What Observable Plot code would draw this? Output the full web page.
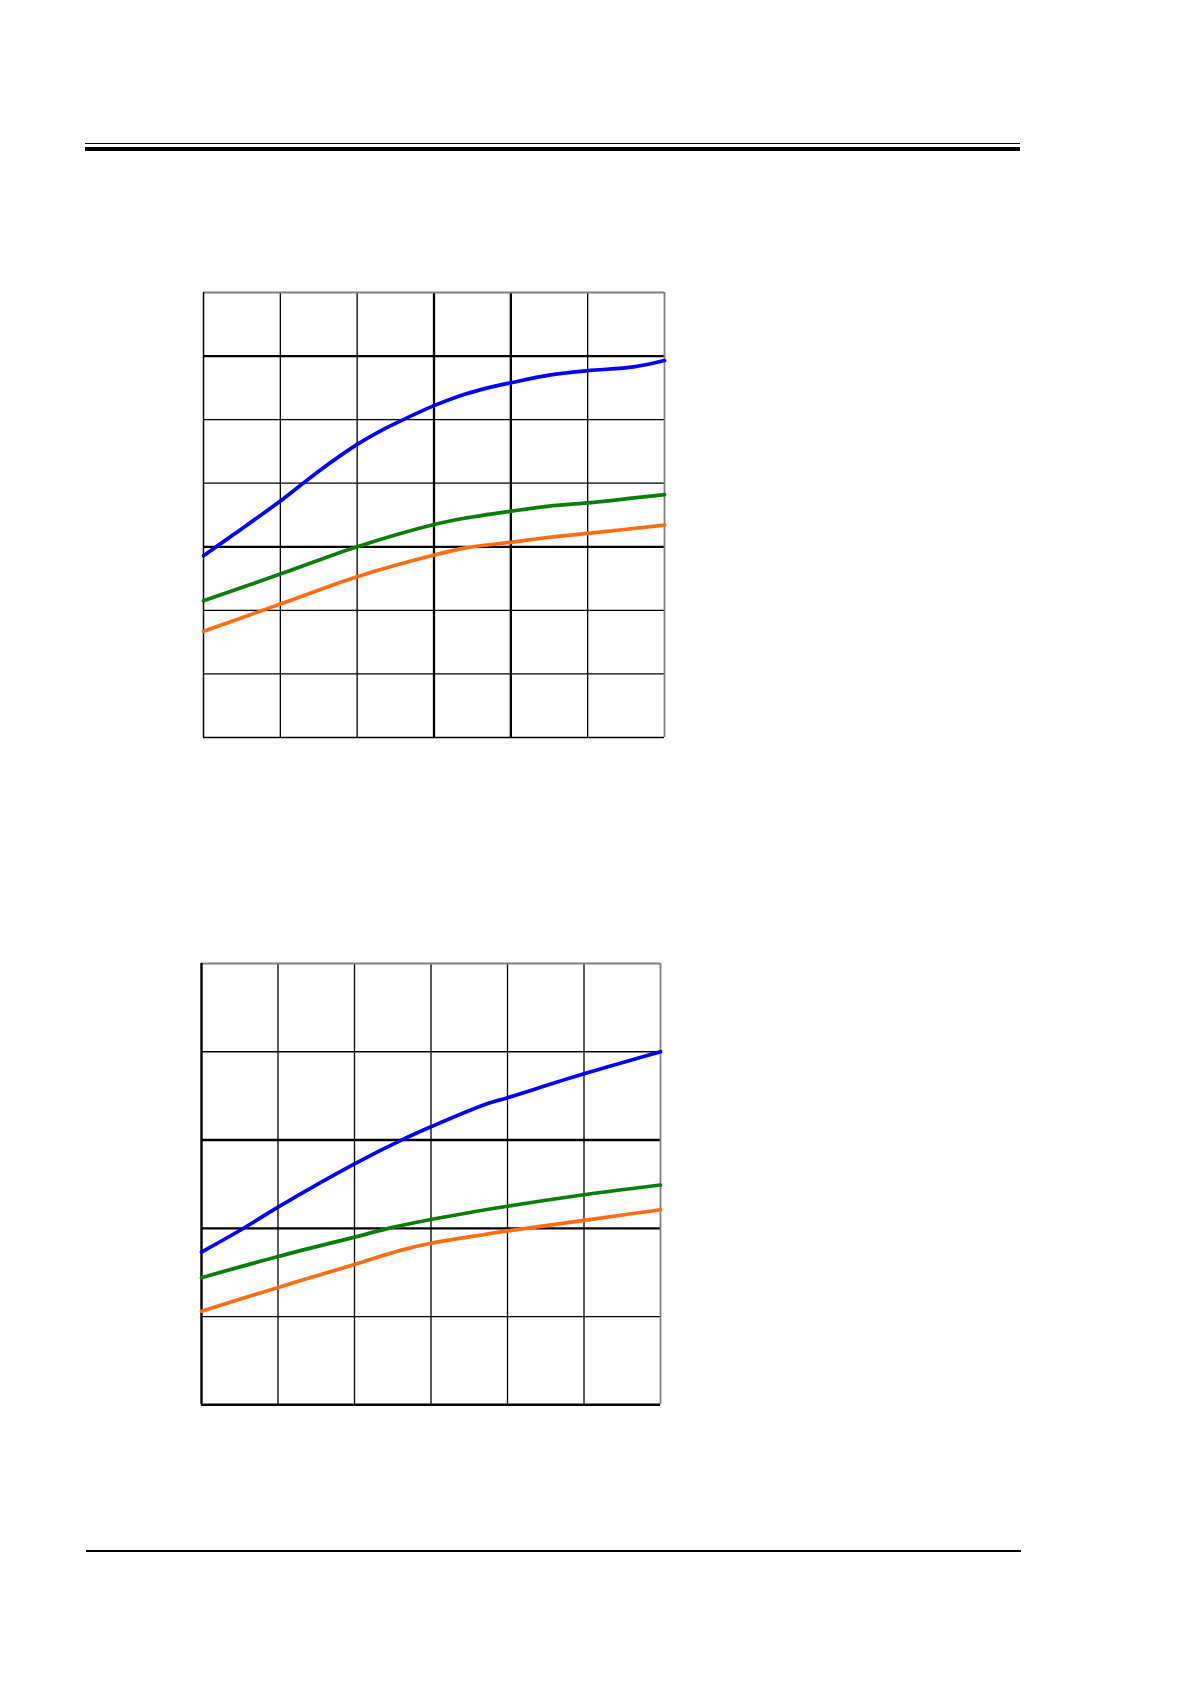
<!DOCTYPE html>
<html>
<head>
<meta charset="utf-8">
<script src="https://cdn.jsdelivr.net/npm/d3@7"></script>
<script src="https://cdn.jsdelivr.net/npm/@observablehq/plot@0.6"></script>
<style>
  html, body { margin: 0; padding: 0; background: #fff; }
  #page { position: relative; width: 1191px; height: 1684px; background: #fff; overflow: hidden; }
  .rule { position: absolute; background: #000; }
  .chart { position: absolute; }
</style>
</head>
<body>
<div id="page">
  <div class="rule" style="left:85px; top:142.5px; width:935px; height:1.5px;"></div>
  <div class="rule" style="left:85px; top:146.5px; width:935px; height:4px;"></div>
  <div class="rule" style="left:86px; top:1550px; width:935px; height:2px;"></div>
  <div id="c1" class="chart"></div>
  <div id="c2" class="chart"></div>
</div>
<script>
// ---- Chart 1 (upper) data, in grid units ----
const c1Cols = [0, 1, 2, 3, 4, 5, 6];
const c1Rows = [0, 1, 2, 3, 4, 5, 6, 7];
const c1ThickCols = [3, 4];
const c1ThickRows = [3, 6];
const c1BlueX = [0, 0.4, 1, 1.5, 2, 2.3, 2.6, 3, 3.4, 3.7, 4, 4.5, 5, 5.6, 6];
const c1BlueY = [2.86, 3.20, 3.72, 4.19, 4.61, 4.82, 5.0, 5.22, 5.40, 5.50, 5.58, 5.70, 5.77, 5.83, 5.93];
const c1GreenX = [0, 1, 2, 3, 3.4, 4, 4.5, 5, 6];
const c1GreenY = [2.15, 2.57, 3.0, 3.35, 3.45, 3.56, 3.64, 3.69, 3.82];
const c1OrangeX = [0, 1, 2, 3, 3.4, 4, 4.5, 5, 6];
const c1OrangeY = [1.67, 2.10, 2.53, 2.87, 2.98, 3.07, 3.15, 3.21, 3.34];

// ---- Chart 2 (lower) data, in grid units ----
const c2Cols = [0, 1, 2, 3, 4, 5, 6];
const c2Rows = [0, 1, 2, 3, 4, 5];
const c2ThickCols = [];
const c2ThickRows = [2, 3];
const c2BlueX = [0, 0.55, 1, 2, 2.64, 3, 3.73, 4, 5, 6];
const c2BlueY = [1.73, 2.0, 2.24, 2.73, 3.01, 3.15, 3.41, 3.48, 3.75, 4.0];
const c2GreenX = [0, 1, 2, 2.5, 3, 4, 5, 6];
const c2GreenY = [1.44, 1.68, 1.90, 2.01, 2.10, 2.25, 2.38, 2.49];
const c2OrangeX = [0, 1, 2, 2.6, 3, 3.7, 4, 5, 6];
const c2OrangeY = [1.06, 1.33, 1.59, 1.75, 1.83, 1.93, 1.97, 2.09, 2.21];

const BLUE = "#0000ff", GREEN = "#0b7d0b", ORANGE = "#ff6e12";

function zip(xs, ys) { return xs.map((x, i) => ({x, y: ys[i]})); }

function makeChart(opts) {
  const m = 3;
  const xMax = opts.cols[opts.cols.length - 1];
  const yMax = opts.rows[opts.rows.length - 1];
  const innerCols = opts.cols.filter(c => c > 0 && c < xMax && !opts.thickCols.includes(c));
  const innerRows = opts.rows.filter(r => r > 0 && r < yMax && !opts.thickRows.includes(r));
  const lw = 3.7;
  return Plot.plot({
    width: opts.w + 2 * m,
    height: opts.h + 2 * m,
    marginLeft: m, marginRight: m, marginTop: m, marginBottom: m,
    x: {domain: [0, xMax], axis: null},
    y: {domain: [0, yMax], axis: null},
    style: {background: "transparent", overflow: "visible"},
    marks: [
      Plot.ruleX(innerCols, {stroke: "#000", strokeWidth: 1.3}),
      Plot.ruleY(innerRows, {stroke: "#000", strokeWidth: 1.3}),
      Plot.ruleX(opts.thickCols, {stroke: "#000", strokeWidth: 2.3}),
      Plot.ruleY(opts.thickRows, {stroke: "#000", strokeWidth: 2.3}),
      Plot.ruleY([yMax], {stroke: "#808080", strokeWidth: 1.8}),
      Plot.ruleX([xMax], {stroke: "#808080", strokeWidth: 1.8}),
      Plot.ruleX([0], {stroke: "#000", strokeWidth: opts.leftW}),
      Plot.ruleY([0], {stroke: "#000", strokeWidth: opts.bottomW}),
      Plot.line(zip(opts.orangeX, opts.orangeY), {x: "x", y: "y", stroke: ORANGE, strokeWidth: lw, curve: "catmull-rom"}),
      Plot.line(zip(opts.greenX, opts.greenY), {x: "x", y: "y", stroke: GREEN, strokeWidth: lw, curve: "catmull-rom"}),
      Plot.line(zip(opts.blueX, opts.blueY), {x: "x", y: "y", stroke: BLUE, strokeWidth: lw, curve: "catmull-rom"})
    ]
  });
}

const svg1 = makeChart({
  w: 461, h: 445, cols: c1Cols, rows: c1Rows, thickCols: c1ThickCols, thickRows: c1ThickRows,
  leftW: 1.5, bottomW: 1.5,
  blueX: c1BlueX, blueY: c1BlueY, greenX: c1GreenX, greenY: c1GreenY, orangeX: c1OrangeX, orangeY: c1OrangeY
});
const c1 = document.getElementById("c1");
c1.style.left = (203 - 3) + "px";
c1.style.top = (291.5 - 3) + "px";
c1.appendChild(svg1);

const svg2 = makeChart({
  w: 459, h: 441.3, cols: c2Cols, rows: c2Rows, thickCols: c2ThickCols, thickRows: c2ThickRows,
  leftW: 2.4, bottomW: 2.4,
  blueX: c2BlueX, blueY: c2BlueY, greenX: c2GreenX, greenY: c2GreenY, orangeX: c2OrangeX, orangeY: c2OrangeY
});
const c2 = document.getElementById("c2");
c2.style.left = (201 - 3) + "px";
c2.style.top = (962.7 - 3) + "px";
c2.appendChild(svg2);
</script>
</body>
</html>
